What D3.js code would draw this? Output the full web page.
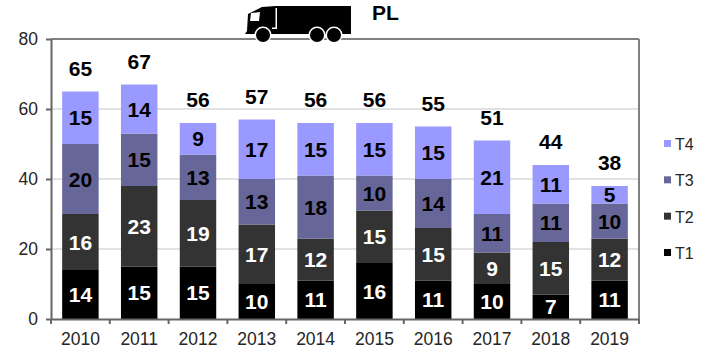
<!DOCTYPE html>
<html>
<head>
<meta charset="utf-8">
<script src="https://cdn.jsdelivr.net/npm/d3@7"></script>
<style>
  html, body { margin: 0; padding: 0; background: #fff; }
  svg { display: block; font-family: "Liberation Sans", Arial, sans-serif; }
  .axis text { font-size: 17.5px; fill: #262626; }
  .axis path, .axis line { stroke: #666; stroke-width: 2px; }
  .grid line { stroke: #d9d9d9; stroke-width: 1.5px; }
  .val, .total { font-size: 21px; font-weight: bold; text-anchor: middle; }
  .legend text { font-size: 16px; fill: #262626; }
</style>
</head>
<body>
<svg id="chart" width="706" height="361"></svg>
<script>
const years = ['2010', '2011', '2012', '2013', '2014', '2015', '2016', '2017', '2018', '2019'];
const t1 = [14, 15, 15, 10, 11, 16, 11, 10, 7, 11];
const t2 = [16, 23, 19, 17, 12, 15, 15, 9, 15, 12];
const t3 = [20, 15, 13, 13, 18, 10, 14, 11, 11, 10];
const t4 = [15, 14, 9, 17, 15, 15, 15, 21, 11, 5];
const totals = [65, 67, 56, 57, 56, 56, 55, 51, 44, 38];
const seriesNames = ['T1', 'T2', 'T3', 'T4'];
const yTicks = [0, 20, 40, 60, 80];
const colors = ['#000000', '#333333', '#666699', '#9999ff'];
const labelColors = ['#fff', '#fff', '#000', '#000'];

const margin = {top: 39, right: 67, bottom: 42, left: 51};
const width = 706 - margin.left - margin.right;
const height = 361 - margin.top - margin.bottom;

const svg = d3.select('#chart');
const g = svg.append('g').attr('transform', `translate(${margin.left},${margin.top})`);

const x = d3.scaleBand().domain(years).range([0, width]).paddingInner(0.38).paddingOuter(0.19);
const y = d3.scaleLinear().domain([0, 80]).range([height, 0]);

// gridlines
g.append('g').attr('class', 'grid')
  .selectAll('line').data(yTicks.filter(v => v > 0 && v < 80)).enter().append('line')
  .attr('x1', 0).attr('x2', width)
  .attr('y1', d => y(d)).attr('y2', d => y(d));

// stacked bars
const rows = years.map((yr, i) => ({year: yr, T1: t1[i], T2: t2[i], T3: t3[i], T4: t4[i]}));
const stacked = d3.stack().keys(seriesNames)(rows);

const layers = g.selectAll('.layer').data(stacked).enter().append('g').attr('class', 'layer');
layers.selectAll('rect').data(d => d).enter().append('rect')
  .attr('x', d => x(d.data.year))
  .attr('width', x.bandwidth())
  .attr('y', d => y(d[1]))
  .attr('height', d => y(d[0]) - y(d[1]))
  .attr('fill', function() { return colors[stacked.indexOf(d3.select(this.parentNode).datum())]; });

// segment values
layers.each(function(s, si) {
  d3.select(this).selectAll('text').data(s).enter().append('text')
    .attr('class', 'val')
    .attr('x', d => x(d.data.year) + x.bandwidth() / 2)
    .attr('y', d => (y(d[0]) + y(d[1])) / 2 + 7.5)
    .attr('fill', labelColors[si])
    .text(d => d[1] - d[0]);
});

// totals
g.selectAll('.total').data(totals).enter().append('text')
  .attr('class', 'total')
  .attr('x', (d, i) => x(years[i]) + x.bandwidth() / 2)
  .attr('y', d => y(d) - 16)
  .attr('fill', '#000')
  .text(d => d);

// plot frame
g.append('line').attr('x1', 0).attr('x2', width).attr('y1', 0).attr('y2', 0).attr('stroke', '#808080').attr('stroke-width', 2);
g.append('line').attr('x1', width).attr('x2', width).attr('y1', 0).attr('y2', height).attr('stroke', '#808080').attr('stroke-width', 2);

// axes
g.append('g').attr('class', 'axis')
  .call(d3.axisLeft(y).tickValues(yTicks).tickSize(5).tickPadding(8).tickSizeOuter(0));

const xAxis = g.append('g').attr('class', 'axis').attr('transform', `translate(0,${height})`)
  .call(d3.axisBottom(x).tickSize(0).tickPadding(14).tickSizeOuter(0));
// ticks sit between the categories
const step = x.step();
xAxis.selectAll('.sep').data(d3.range(years.length + 1)).enter().append('line')
  .attr('class', 'sep')
  .attr('x1', d => d * step).attr('x2', d => d * step)
  .attr('y1', 0).attr('y2', 5);

// legend
const legend = svg.append('g').attr('class', 'legend');
const legendY = d3.scalePoint().domain(['T4', 'T3', 'T2', 'T1']).range([144, 253]);
seriesNames.forEach((name, i) => {
  legend.append('rect')
    .attr('x', 664).attr('y', legendY(name) - 4)
    .attr('width', 7).attr('height', 7)
    .attr('fill', colors[i]);
  legend.append('text')
    .attr('x', 675).attr('y', legendY(name) + 6)
    .text(name);
});

// truck icon and title
const truck = svg.append('g').attr('fill', '#000');
truck.append('path').attr('d', 'M245 34 L247 31 L248 14 L262 7 L276 6 L351 6 L351 34 Z');
truck.append('path').attr('fill', '#fff').attr('d', 'M251 13 L260 12 L259 21 L250 21 Z');
truck.append('path').attr('fill', '#fff').attr('d', 'M275.5 8 L277 8 L277 29 L272 29 L272 27.5 L275.5 27.5 Z');
[263, 317, 334].forEach(cx => {
  truck.append('circle').attr('cx', cx).attr('cy', 35).attr('r', 8.5).attr('fill', '#fff');
  truck.append('circle').attr('cx', cx).attr('cy', 35).attr('r', 7);
});
svg.append('text').attr('x', 372).attr('y', 20)
  .attr('font-size', 21).attr('font-weight', 'bold').text('PL');
</script>
</body>
</html>
